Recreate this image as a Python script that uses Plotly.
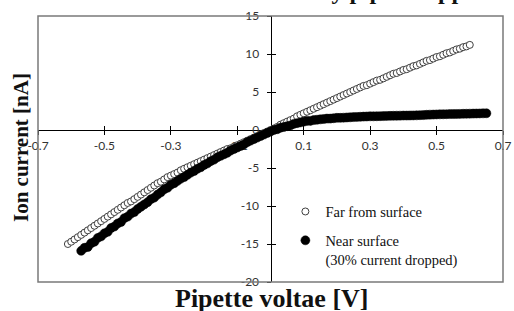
import plotly.graph_objects as go

# ---------------- data ----------------
far_v = [-0.61, -0.60, -0.59, -0.58, -0.57, -0.56, -0.55, -0.54, -0.53, -0.52,
         -0.51, -0.50, -0.49, -0.48, -0.47, -0.46, -0.45, -0.44, -0.43, -0.42,
         -0.41, -0.40, -0.39, -0.38, -0.37, -0.36, -0.35, -0.34, -0.33, -0.32,
         -0.31, -0.30, -0.29, -0.28, -0.27, -0.26, -0.25, -0.24, -0.23, -0.22,
         -0.21, -0.20, -0.19, -0.18, -0.17, -0.16, -0.15, -0.14, -0.13, -0.12,
         -0.11, -0.10, -0.09, -0.08, -0.07, -0.06, -0.05, -0.04, -0.03, -0.02,
         -0.01, 0.00, 0.01, 0.02, 0.03, 0.04, 0.05, 0.06, 0.07, 0.08,
         0.09, 0.10, 0.11, 0.12, 0.13, 0.14, 0.15, 0.16, 0.17, 0.18,
         0.19, 0.20, 0.21, 0.22, 0.23, 0.24, 0.25, 0.26, 0.27, 0.28,
         0.29, 0.30, 0.31, 0.32, 0.33, 0.34, 0.35, 0.36, 0.37, 0.38,
         0.39, 0.40, 0.41, 0.42, 0.43, 0.44, 0.45, 0.46, 0.47, 0.48,
         0.49, 0.50, 0.51, 0.52, 0.53, 0.54, 0.55, 0.56, 0.57, 0.58,
         0.59, 0.60]
far_i = [-15.0, -14.7, -14.4, -14.1, -13.8, -13.5, -13.2, -12.9, -12.6, -12.3,
         -12.0, -11.7, -11.4, -11.1, -10.8, -10.5, -10.2, -9.9, -9.6, -9.4,
         -9.1, -8.8, -8.5, -8.2, -7.9, -7.6, -7.3, -7.0, -6.8, -6.5,
         -6.2, -6.0, -5.8, -5.6, -5.3, -5.1, -4.9, -4.7, -4.5, -4.3,
         -4.1, -3.9, -3.7, -3.5, -3.3, -3.1, -2.9, -2.7, -2.5, -2.4,
         -2.2, -2.0, -1.8, -1.6, -1.4, -1.2, -1.0, -0.8, -0.6, -0.4,
         -0.2, 0.0, 0.2, 0.4, 0.7, 0.9, 1.1, 1.3, 1.5, 1.8,
         2.0, 2.2, 2.4, 2.6, 2.8, 3.0, 3.2, 3.4, 3.6, 3.8,
         4.0, 4.2, 4.4, 4.6, 4.8, 5.0, 5.2, 5.4, 5.6, 5.8,
         5.9, 6.1, 6.3, 6.5, 6.6, 6.8, 7.0, 7.2, 7.4, 7.5,
         7.7, 7.9, 8.0, 8.2, 8.4, 8.5, 8.7, 8.9, 9.1, 9.2,
         9.4, 9.6, 9.7, 9.9, 10.1, 10.2, 10.4, 10.6, 10.7, 10.9,
         11.0, 11.2]

near_v = [-0.57, -0.56, -0.55, -0.54, -0.53, -0.52, -0.51, -0.50, -0.49, -0.48,
          -0.47, -0.46, -0.45, -0.44, -0.43, -0.42, -0.41, -0.40, -0.39, -0.38,
          -0.37, -0.36, -0.35, -0.34, -0.33, -0.32, -0.31, -0.30, -0.29, -0.28,
          -0.27, -0.26, -0.25, -0.24, -0.23, -0.22, -0.21, -0.20, -0.19, -0.18,
          -0.17, -0.16, -0.15, -0.14, -0.13, -0.12, -0.11, -0.10, -0.09, -0.08,
          -0.07, -0.06, -0.05, -0.04, -0.03, -0.02, -0.01, 0.00,
          0.01, 0.02, 0.03, 0.04, 0.05, 0.06, 0.07, 0.08, 0.09, 0.10,
          0.11, 0.12, 0.13, 0.14, 0.15, 0.16, 0.17, 0.18, 0.19, 0.20,
          0.21, 0.22, 0.23, 0.24, 0.25, 0.26, 0.27, 0.28, 0.29, 0.30,
          0.31, 0.32, 0.33, 0.34, 0.35, 0.36, 0.37, 0.38, 0.39, 0.40,
          0.41, 0.42, 0.43, 0.44, 0.45, 0.46, 0.47, 0.48, 0.49, 0.50,
          0.51, 0.52, 0.53, 0.54, 0.55, 0.56, 0.57, 0.58, 0.59, 0.60,
          0.61, 0.62, 0.63, 0.64, 0.65]
near_i = [-15.9, -15.5, -15.4, -14.9, -14.7, -14.2, -14.0, -13.6, -13.4, -12.9,
          -12.7, -12.3, -12.1, -11.6, -11.4, -11.0, -10.8, -10.4, -10.1, -9.8,
          -9.5, -9.1, -8.9, -8.5, -8.2, -7.8, -7.6, -7.2, -7.0, -6.7,
          -6.4, -6.2, -5.9, -5.6, -5.4, -5.1, -4.9, -4.6, -4.4, -4.1,
          -3.9, -3.6, -3.4, -3.2, -3.0, -2.7, -2.5, -2.3, -2.1, -1.9,
          -1.6, -1.4, -1.2, -1.0, -0.8, -0.6, -0.4, -0.2,
          0.0, 0.1, 0.3, 0.4, 0.5, 0.6, 0.8, 0.9, 1.0, 1.1,
          1.2, 1.2, 1.3, 1.35, 1.4, 1.45, 1.5, 1.5, 1.55, 1.6,
          1.6, 1.62, 1.65, 1.67, 1.7, 1.72, 1.74, 1.76, 1.78, 1.8,
          1.8, 1.81, 1.82, 1.83, 1.85, 1.86, 1.87, 1.88, 1.89, 1.9,
          1.9, 1.91, 1.92, 1.93, 1.95, 1.96, 2.0, 2.02, 2.03, 2.05,
          2.06, 2.07, 2.08, 2.09, 2.1, 2.11, 2.12, 2.13, 2.14, 2.15,
          2.16, 2.17, 2.18, 2.19, 2.2]

x_ticks = [-0.7, -0.5, -0.3, -0.1, 0.1, 0.3, 0.5, 0.7]
x_tick_labels = ["-0.7", "-0.5", "-0.3", "-0.1", "0.1", "0.3", "0.5", "0.7"]
y_ticks = [-20, -15, -10, -5, 0, 5, 10, 15]
y_tick_labels = ["-20", "-15", "-10", "-5", "0", "5", "10", "15"]

x_range = [-0.7, 0.7]
y_range = [-20, 15]

series_names = ["Far from surface", "Near surface<br>(30% current dropped)"]
title_text = "Ion current rectification by pipette approach"
x_title = "Pipette voltae [V]"
y_title = "Ion current [nA]"

# ---------------- figure ----------------
SERIF = "Liberation Serif, Times New Roman, serif"
SANS = "Lato, Carlito, Calibri, sans-serif"

fig = go.Figure()
fig.add_trace(go.Scatter(
    x=far_v, y=far_i, mode="markers", name=series_names[0], legendgroup="a",
    marker=dict(symbol="circle", size=7, color="white",
                line=dict(color="#404040", width=1)),
))
fig.add_trace(go.Scatter(
    x=near_v, y=near_i, mode="markers", name=series_names[1], legendgroup="b",
    marker=dict(symbol="circle", size=9, color="black",
                line=dict(color="black", width=0.5)),
))
# empty helper trace so that the crossing-tick helper axes are drawn
fig.add_trace(go.Scatter(x=[], y=[], xaxis="x2", yaxis="y2", showlegend=False,
                         hoverinfo="skip"))

xpos = (0 - y_range[0]) / (y_range[1] - y_range[0])
ypos = (0 - x_range[0]) / (x_range[1] - x_range[0])

axis_common = dict(showgrid=False, zeroline=False, layer="below traces",
                   automargin=False)

fig.update_layout(
    width=514, height=311,
    margin=dict(l=38, r=11, t=16, b=29),
    paper_bgcolor="white", plot_bgcolor="white",
    font=dict(family=SANS, size=12, color="#333333"),
    hovermode=False,
    xaxis=dict(range=x_range, anchor="free", position=xpos,
               tickmode="array", tickvals=x_ticks, ticktext=x_tick_labels,
               showline=True, linecolor="black", linewidth=1,
               ticks="inside", ticklen=4, tickcolor="black", tickwidth=1,
               ticklabelstandoff=5,
               tickfont=dict(family=SANS, size=12, color="#333333"),
               **axis_common),
    xaxis2=dict(range=x_range, anchor="free", position=xpos, overlaying="x",
                side="bottom", tickmode="array", tickvals=x_ticks,
                showticklabels=False, showline=False,
                ticks="outside", ticklen=4, tickcolor="black", tickwidth=1,
                **axis_common),
    yaxis=dict(range=y_range, anchor="free", position=ypos,
               tickmode="array", tickvals=y_ticks, ticktext=y_tick_labels,
               showline=True, linecolor="black", linewidth=1,
               ticks="outside", ticklen=4, tickcolor="black", tickwidth=1,
               ticklabelstandoff=5,
               tickfont=dict(family=SANS, size=12, color="#333333"),
               **axis_common),
    yaxis2=dict(range=y_range, anchor="free", position=ypos, overlaying="y",
                side="left", tickmode="array", tickvals=y_ticks,
                showticklabels=False, showline=False,
                ticks="inside", ticklen=4, tickcolor="black", tickwidth=1,
                **axis_common),
    showlegend=True,
    legend=dict(x=0.532, y=0.325, xanchor="left", yanchor="top",
                bgcolor="rgba(0,0,0,0)", borderwidth=0,
                font=dict(family=SERIF, size=14.5, color="#111111"),
                traceorder="grouped", tracegroupgap=7, valign="top",
                itemwidth=30),
    shapes=[dict(type="rect", xref="x domain", yref="y domain",
                 x0=0, x1=1, y0=0, y1=1,
                 line=dict(color="#7a7a7a", width=1.5), layer="above")],
    annotations=[
        dict(text=f"<b>{x_title}</b>", xref="paper", yref="paper",
             x=(271 - 38) / 465, y=(282 - 298) / 266, xanchor="center",
             yanchor="middle", showarrow=False,
             font=dict(family=SERIF, size=26, color="#111111")),
        dict(text=f"<b>{y_title}</b>", xref="paper", yref="paper",
             x=(21 - 38) / 465, y=(282 - 148) / 266, xanchor="center",
             yanchor="middle", textangle=-90, showarrow=False,
             font=dict(family=SERIF, size=21, color="#111111")),
        dict(text=f"<b>{title_text}</b>", xref="paper", yref="paper",
             x=(64 - 38) / 465, y=(282 - 4.5) / 266, xanchor="left",
             yanchor="bottom", showarrow=False, borderpad=0,
             font=dict(family=SERIF, size=24, color="#111111")),
    ],
)

# remove the browser's default 8px page margin so the figure sits at (0, 0)
fig.write_html("out.html", config={"displayModeBar": False},
               post_script="document.body.style.margin='0';")
